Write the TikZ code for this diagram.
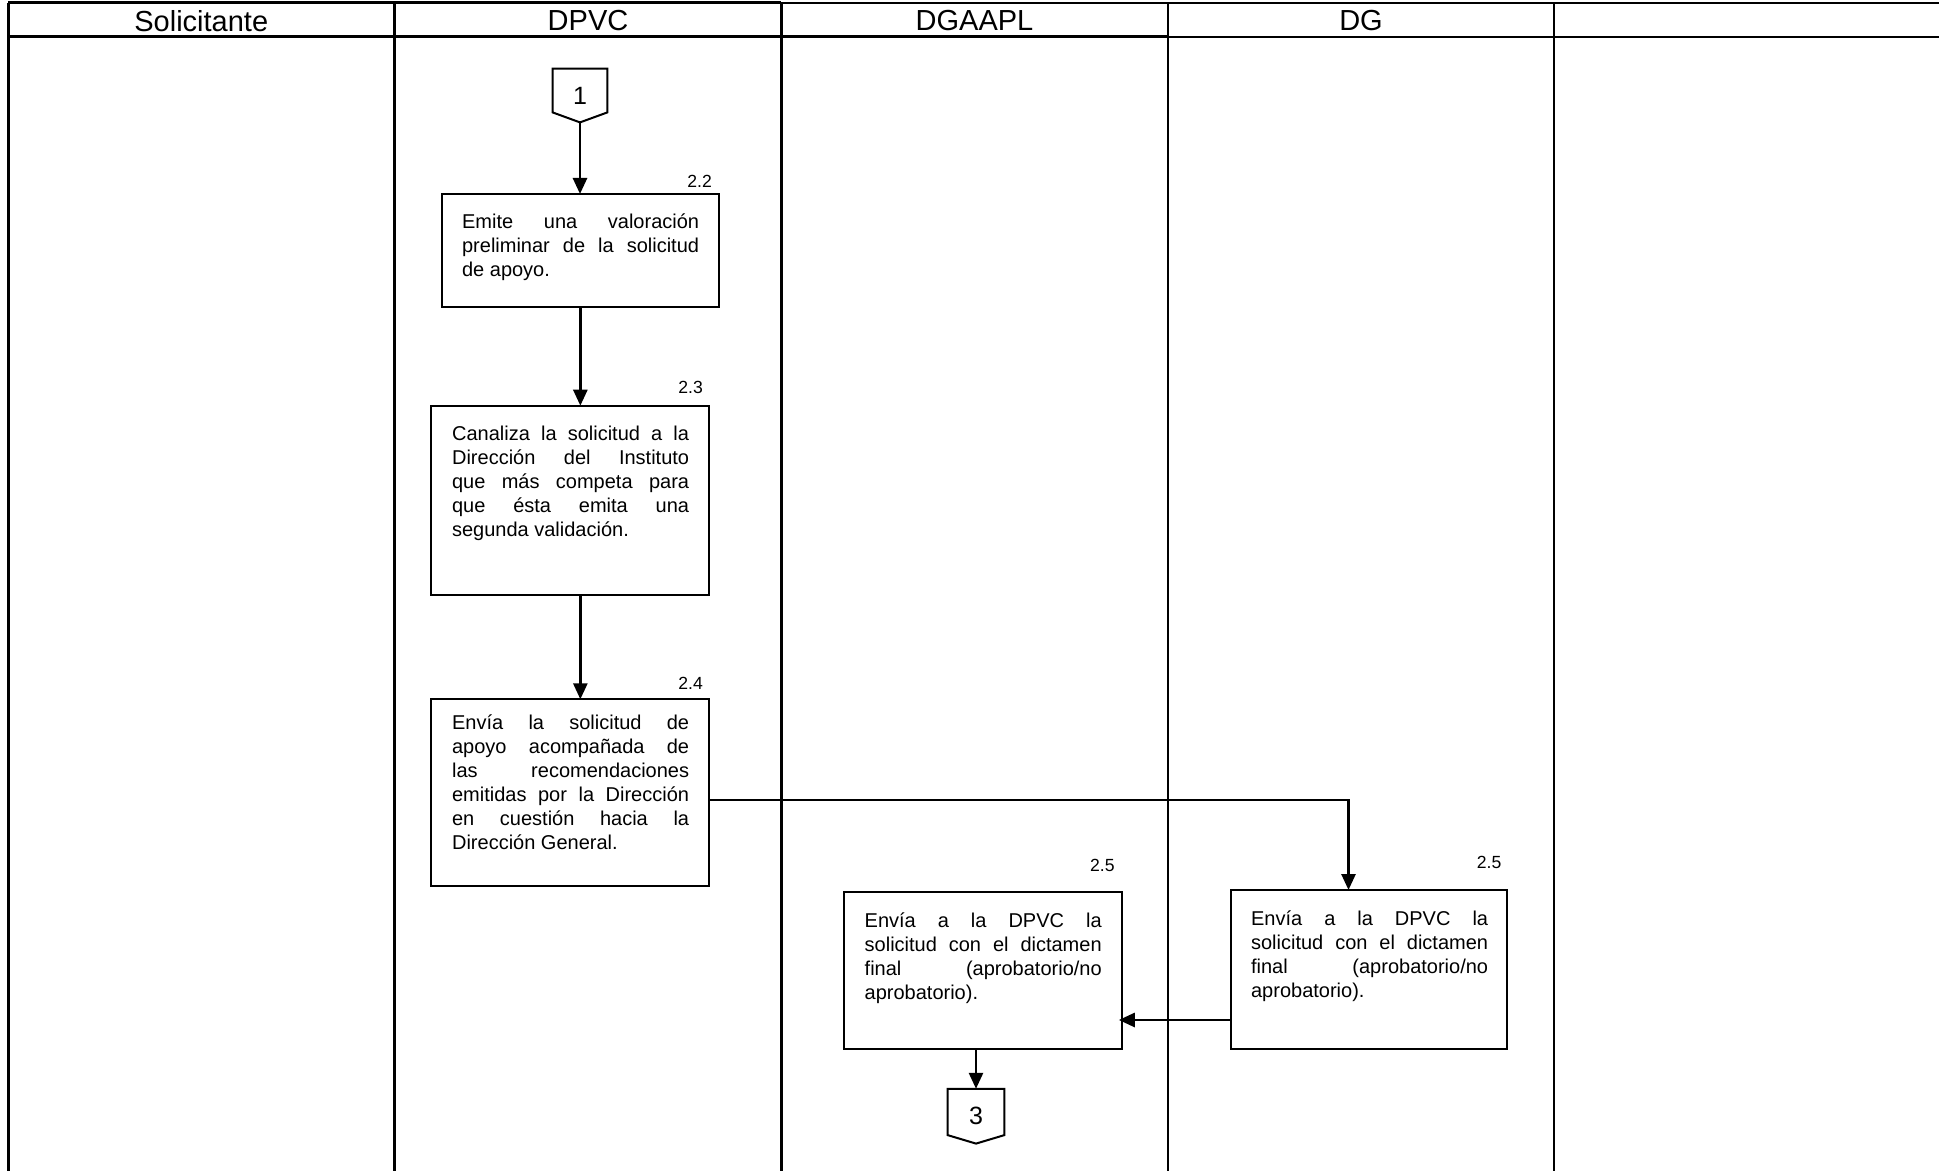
\documentclass[tikz,border=0pt]{standalone}
\usepackage{fontspec}
\setmainfont{Liberation Sans}
\usetikzlibrary{arrows.meta,calc}
\newcommand\jl[1]{\makebox[118.5pt][s]{#1}}
\begin{document}
\begin{tikzpicture}[x=0.5pt,y=-0.5pt,
  thickrule/.style={line width=1.5pt},
  thinrule/.style={line width=1pt},
  stepbox/.style={draw,line width=1pt,inner sep=0pt,outer sep=0pt},
  steptext/.style={anchor=base west,align=left,inner sep=0pt,font=\fontsize{10}{12}\selectfont},
  steplabel/.style={anchor=base east,inner sep=0pt,font=\fontsize{8.8}{10}\selectfont},
  lanetitle/.style={inner sep=0pt,font=\fontsize{14.5}{16}\selectfont},
  pent/.style={minimum width=27pt,minimum height=26.5pt,inner sep=0pt,font=\fontsize{12.5}{14}\selectfont},
  pentline/.style={line width=1pt,line join=miter},
  conn/.style={line width=1.35pt},
  arr/.style={conn,-{Triangle[length=8pt,width=7pt]}}
]
\useasboundingbox (0,0) rectangle (1939,1171);
% swimlane frame
\draw[thickrule] (8,3) -- (781.3,3);
\draw[thinrule] (781.3,3) -- (1939,3);
\draw[thickrule] (8,37) -- (1167.8,37);
\draw[thinrule] (1167.8,37) -- (1939,37);
\draw[thickrule] (8,3) -- (8,1171);
\draw[thickrule] (394.6,3) -- (394.6,1171);
\draw[thickrule] (781.3,3) -- (781.3,1171);
\draw[thinrule] (1167.8,3) -- (1167.8,1171);
\draw[thinrule] (1554.4,3) -- (1554.4,1171);
% lane titles
\node[lanetitle] (t1) at (201.3,21) {Solicitante};
\node[lanetitle] (t2) at (588,21) {DPVC};
\node[lanetitle] (t3) at (974.5,21) {DGAAPL};
\node[lanetitle] (t4) at (1361,21) {DG};
% connector 1
\node[pent] (p1) at (580,95.5) {1};
\draw[pentline] (p1.north west) -- (p1.north east) -- ($(p1.south east)+(0,-10)$) -- (p1.south) -- ($(p1.south west)+(0,-10)$) -- cycle;
% boxes
\node[stepbox,minimum width=138.65pt,minimum height=56.35pt] (b22) at (580.35,250.35) {};
\node[stepbox,minimum width=138.85pt,minimum height=94.65pt] (b23) at (569.85,500.35) {};
\node[stepbox,minimum width=138.85pt,minimum height=93.35pt] (b24) at (569.85,792.65) {};
\node[stepbox,minimum width=139pt,minimum height=78.8pt] (b25a) at (983,970.5) {};
\node[stepbox,minimum width=138.3pt,minimum height=79.65pt] (b25g) at (1369,969.65) {};
% labels
\node[steplabel] (l22) at (712.3,187.3) {2.2};
\node[steplabel] (l23) at (703.3,394) {2.3};
\node[steplabel] (l24) at (703.3,689.3) {2.4};
\node[steplabel] (l25a) at (1115,871.7) {2.5};
\node[steplabel] (l25g) at (1501.7,868.3) {2.5};
% texts (anchored at the baseline of their last line)
\node[steptext] (x22) at (461.7,277) {\jl{Emite una valoración}\\\jl{preliminar de la solicitud}\\de apoyo.};
\node[steptext] (x23) at (451.7,536.5) {\jl{Canaliza la solicitud a la}\\\jl{Dirección del Instituto}\\\jl{que más competa para}\\\jl{que ésta emita una}\\segunda validación.};
\node[steptext] (x24) at (451.7,849.5) {\jl{Envía la solicitud de}\\\jl{apoyo acompañada de}\\\jl{las recomendaciones}\\\jl{emitidas por la Dirección}\\\jl{en cuestión hacia la}\\Dirección General.};
\node[steptext] (x25a) at (864.3,999.3) {\jl{Envía a la DPVC la}\\\jl{solicitud con el dictamen}\\\jl{final (aprobatorio/no}\\aprobatorio).};
\node[steptext] (x25g) at (1250.7,997.7) {\jl{Envía a la DPVC la}\\\jl{solicitud con el dictamen}\\\jl{final (aprobatorio/no}\\aprobatorio).};
% connector 3
\node[pent,minimum width=28pt,minimum height=27pt] (p3) at (976,1116.2) {3};
\draw[pentline] (p3.north west) -- (p3.north east) -- ($(p3.south east)+(0,-8.5)$) -- (p3.south) -- ($(p3.south west)+(0,-8.5)$) -- cycle;
% flow
\coordinate (c1) at (1348.5,800);
\coordinate (c2) at (1230.7,1020);
\draw[arr] (p1.south) -- (p1.south |- b22.north);
\draw[arr] (b22.south) -- (b22.south |- b23.north);
\draw[arr] (b22.south |- b23.south) -- (b22.south |- b24.north);
\draw[arr] (b24.east |- c1) -- (c1) -- (c1 |- b25g.north);
\draw[arr,shorten >=-1.6pt] (b25g.west |- c2) -- (b25a.east |- c2);
\draw[arr] (b25a.south -| p3.north) -- (p3.north);
\end{tikzpicture}
\end{document}
